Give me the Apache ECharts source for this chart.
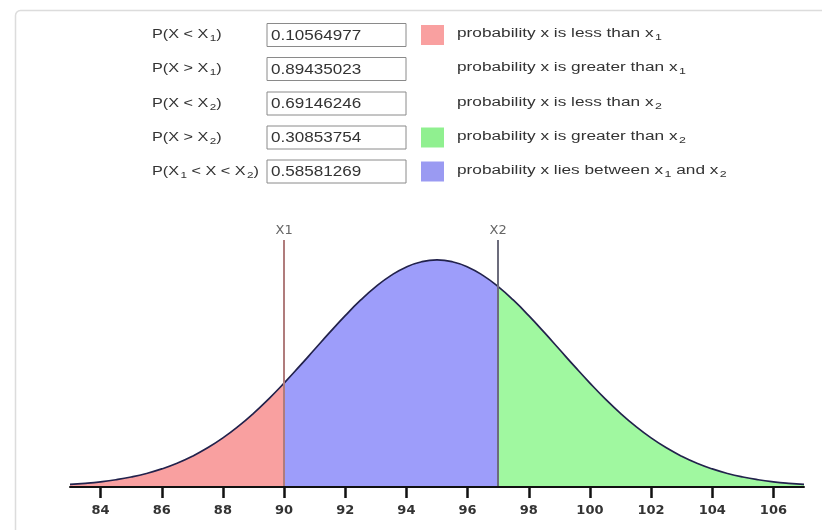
<!DOCTYPE html>
<html>
<head>
<meta charset="utf-8">
<script src="https://cdn.jsdelivr.net/npm/echarts@6/dist/echarts.min.js"></script>
<style>html,body{margin:0;padding:0;background:#fff}#c{width:822px;height:530px}</style>
</head>
<body>
<div id="c"></div>
<script>
// ---- data ----
const xValues = [83,83.5,84,84.5,85,85.5,86,86.5,87,87.5,88,88.5,89,89.5,90,90.5,91,91.5,92,92.5,93,93.5,94,94.5,95,
  95.5,96,96.5,97,97.5,98,98.5,99,99.5,100,100.5,101,101.5,102,102.5,103,103.5,104,104.5,105,105.5,106,106.5,107];
const density = [0.00111,0.00160,0.00227,0.00318,0.00438,0.00594,0.00794,0.01043,0.01350,0.01720,0.02157,0.02664,0.03238,0.03875,0.04566,0.05297,0.06049,0.06801,0.07528,0.08204,0.08802,0.09296,0.09667,0.09896,0.09974,
  0.09896,0.09667,0.09296,0.08802,0.08204,0.07528,0.06801,0.06049,0.05297,0.04566,0.03875,0.03238,0.02664,0.02157,0.01720,0.01350,0.01043,0.00794,0.00594,0.00438,0.00318,0.00227,0.00160,0.00111];
const x1 = 90;
const x2 = 97;
const tickLabels = [84,86,88,90,92,94,96,98,100,102,104,106];
const probLabels = ['P(X < X{s|1})','P(X > X{s|1})','P(X < X{s|2})','P(X > X{s|2})','P(X{s|1} < X < X{s|2})'];
const probValues = ['0.10564977','0.89435023','0.69146246','0.30853754','0.58581269'];
const descriptions = ['probability x is less than x{s|1}','probability x is greater than x{s|1}','probability x is less than x{s|2}','probability x is greater than x{s|2}','probability x lies between x{s|1} and x{s|2}'];

// ---- styles ----
const RED = '#f9a0a0', BLUE = '#9d9dfa', GREEN = '#a0f8a0';
const swatchColors = [RED, null, null, '#90f090', '#9a9af2'];
const FONT = '"Liberation Sans", Arial, sans-serif';

const pts = xValues.map((x, i) => [x, density[i]]);
const leftPts = pts.filter(p => p[0] <= x1);
const midPts = pts.filter(p => p[0] >= x1 && p[0] <= x2);
const rightPts = pts.filter(p => p[0] >= x2);

const rich = {
  s: { fontSize: 9, verticalAlign: 'bottom', lineHeight: 17, padding: [0, 0, 0, 1], fontFamily: FONT, fill: '#333' }
};
const graphics = [{
  type: 'rect', left: 13, top: 8, silent: true, z: -10,
  shape: { width: 900, height: 700, r: 5 },
  style: { fill: 'none', stroke: '#dcdcdc', lineWidth: 1.5 }
}];
const rowY = [35, 69, 103.5, 137.5, 171.5];
probLabels.forEach((t, i) => {
  graphics.push({ type: 'text', x: 152, y: rowY[i], scaleX: 1.3, style: { text: t, font: '12.5px ' + FONT, fill: '#333', verticalAlign: 'middle', rich: rich } });
  graphics.push({ type: 'rect', shape: { x: 267, y: rowY[i] - 11.5, width: 139, height: 23 }, style: { fill: '#fff', stroke: '#8a8a8a', lineWidth: 1 } });
  graphics.push({ type: 'text', x: 271, y: rowY[i] + 1, scaleX: 1.22, style: { text: probValues[i], font: '14px ' + FONT, fill: '#333', verticalAlign: 'middle' } });
  if (swatchColors[i]) {
    graphics.push({ type: 'rect', shape: { x: 421, y: rowY[i] - 10, width: 23, height: 20 }, style: { fill: swatchColors[i] } });
  }
  graphics.push({ type: 'text', x: 457, y: rowY[i] - 1, scaleX: 1.38, style: { text: descriptions[i], font: '12.5px ' + FONT, fill: '#333', verticalAlign: 'middle', rich: rich } });
});

const areaSeries = (data, color) => ({
  type: 'line', data: data, smooth: true, showSymbol: false, silent: true,
  lineStyle: { width: 0 }, areaStyle: { color: color, opacity: 1 }, z: 2
});

const chart = echarts.init(document.getElementById('c'), null, { renderer: 'canvas' });
chart.setOption({
  animation: false,
  backgroundColor: '#fff',
  grid: { left: 70, right: 18, top: 240, bottom: 43 },
  xAxis: {
    type: 'value', min: 83, max: 107, z: 5,
    splitLine: { show: false },
    axisLine: { show: true, onZero: false, lineStyle: { color: '#111', width: 2 } },
    axisTick: { show: true, inside: false, length: 11, lineStyle: { color: '#111', width: 2.5 }, customValues: tickLabels },
    axisLabel: { customValues: tickLabels, color: '#333', fontSize: 13, fontWeight: 'bold', fontFamily: '"DejaVu Sans", sans-serif', margin: 17 }
  },
  yAxis: { type: 'value', min: 0, max: 0.1085, show: false, splitLine: { show: false } },
  series: [
    areaSeries(leftPts, RED),
    areaSeries(midPts, BLUE),
    areaSeries(rightPts, GREEN),
    {
      type: 'line', data: pts, smooth: true, showSymbol: false, silent: true, z: 3,
      lineStyle: { color: '#22224c', width: 1.7 },
      markLine: {
        silent: true, symbol: 'none', animation: false,
        data: [
          { xAxis: x1, lineStyle: { color: '#b07c7c', width: 2, type: 'solid' }, label: { formatter: 'X1' } },
          { xAxis: x2, lineStyle: { color: '#6c6c7c', width: 2, type: 'solid' }, label: { formatter: 'X2' } }
        ],
        label: { show: true, position: 'end', color: '#666', fontSize: 13, fontFamily: '"DejaVu Sans", sans-serif', distance: 3 }
      }
    }
  ],
  graphic: graphics
});
</script>
</body>
</html>
